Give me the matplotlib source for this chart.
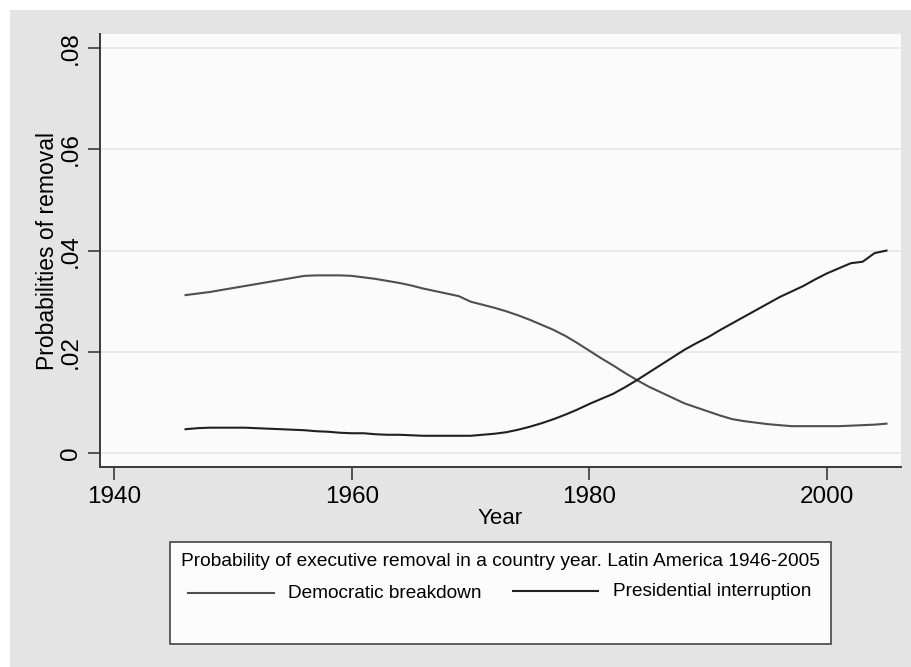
import numpy as np
import matplotlib
matplotlib.use("Agg")
import matplotlib.pyplot as plt
from matplotlib.patches import Rectangle
from matplotlib.lines import Line2D

plt.rcParams['font.family'] = ['Liberation Sans', 'DejaVu Sans']

years = np.arange(1946, 2006)

democratic_breakdown = [
    .0312, .0315, .0318, .0322, .0326, .0330, .0334, .0338, .0342, .0346,
    .0350, .0351, .0351, .0351, .0350, .0347, .0344, .0340, .0336, .0331,
    .0325, .0320, .0315, .0310, .0299, .0293, .0287, .0280, .0272, .0263,
    .0253, .0243, .0231, .0217, .0202, .0187, .0173, .0158, .0144, .0131,
    .0120, .0109, .0098, .0090, .0082, .0074, .0067, .0063, .0060, .0057,
    .0055, .0053, .0053, .0053, .0053, .0053, .0054, .0055, .0056, .0058,
]

presidential_interruption = [
    .0047, .0049, .0050, .0050, .0050, .0050, .0049, .0048, .0047, .0046,
    .0045, .0043, .0042, .0040, .0039, .0039, .0037, .0036, .0036, .0035,
    .0034, .0034, .0034, .0034, .0034, .0036, .0038, .0041, .0046, .0052,
    .0059, .0067, .0076, .0086, .0097, .0107, .0117, .0130, .0144, .0159,
    .0174, .0189, .0204, .0217, .0229, .0243, .0256, .0269, .0282, .0295,
    .0308, .0319, .0330, .0343, .0355, .0365, .0375, .0378, .0395, .0400,
]

x_ticks = [1940, 1960, 1980, 2000]
y_ticks = [0, .02, .04, .06, .08]
y_tick_labels = ['0', '.02', '.04', '.06', '.08']

legend_title = "Probability of executive removal in a country year. Latin America 1946-2005"
series_names = ["Democratic breakdown", "Presidential interruption"]

W, H = 912, 667
fig = plt.figure(figsize=(W / 100, H / 100), dpi=100, facecolor='white')

# stata-like gray graph region
fig.patches.append(Rectangle((10 / W, 0), 1 - 10 / W, 1 - 10 / H,
                             transform=fig.transFigure, facecolor='#e4e4e4',
                             edgecolor='none', zorder=-5))

ax = fig.add_axes([100 / W, 1 - 467 / H, 800.7 / W, 433 / H])
ax.set_zorder(1)
ax.set_facecolor('#fbfbfb')

ax.plot(years, democratic_breakdown, color='#4f4f4f', lw=1.5, zorder=3)
ax.plot(years, presidential_interruption, color='#202020', lw=1.5, zorder=3)

ax.set_xlim(1938.8, 2006.2)
ax.set_ylim(-0.00277, 0.0828)
ax.set_xticks(x_ticks)
ax.set_yticks(y_ticks)
ax.set_yticklabels(y_tick_labels, rotation=90, va='center')
ax.tick_params(axis='both', direction='out', length=9, width=1.2,
               color='#3a3a3a', labelsize=17.5, labelcolor='black')
ax.tick_params(axis='y', pad=4)
ax.tick_params(axis='x', pad=5)

ax.grid(axis='y', color='#e6e6e6', lw=1.2, zorder=1)
ax.set_axisbelow(True)
for s in ['top', 'right']:
    ax.spines[s].set_visible(False)
for s in ['left', 'bottom']:
    ax.spines[s].set_color('#3a3a3a')
    ax.spines[s].set_linewidth(1.4)

ax.set_ylabel("Probabilities of removal", fontsize=16.5, labelpad=1)
ax.set_xlabel("Year", fontsize=16, labelpad=0)

# legend box drawn like stata's
fig.patches.append(Rectangle((170 / W, 1 - 644.3 / H), 660.7 / W, 102.3 / H,
                             transform=fig.transFigure, facecolor='#fcfcfc',
                             edgecolor='#444444', lw=1.2, zorder=2))
fig.text(500 / W, 1 - 561.7 / H, legend_title, fontsize=13.8,
         ha='center', va='center', zorder=3)
fig.lines.append(Line2D([188 / W, 274 / W], [1 - 593 / H, 1 - 593 / H],
                        transform=fig.transFigure, color='#4f4f4f', lw=1.5,
                        zorder=4))
fig.lines.append(Line2D([513 / W, 598 / W], [1 - 591 / H, 1 - 591 / H],
                        transform=fig.transFigure, color='#202020', lw=1.5,
                        zorder=4))
fig.text(288 / W, 1 - 593 / H, series_names[0], fontsize=13.7,
         ha='left', va='center', zorder=3)
fig.text(613 / W, 1 - 591 / H, series_names[1], fontsize=13.7,
         ha='left', va='center', zorder=3)

fig.savefig("out.png", dpi=100, facecolor=fig.get_facecolor())
